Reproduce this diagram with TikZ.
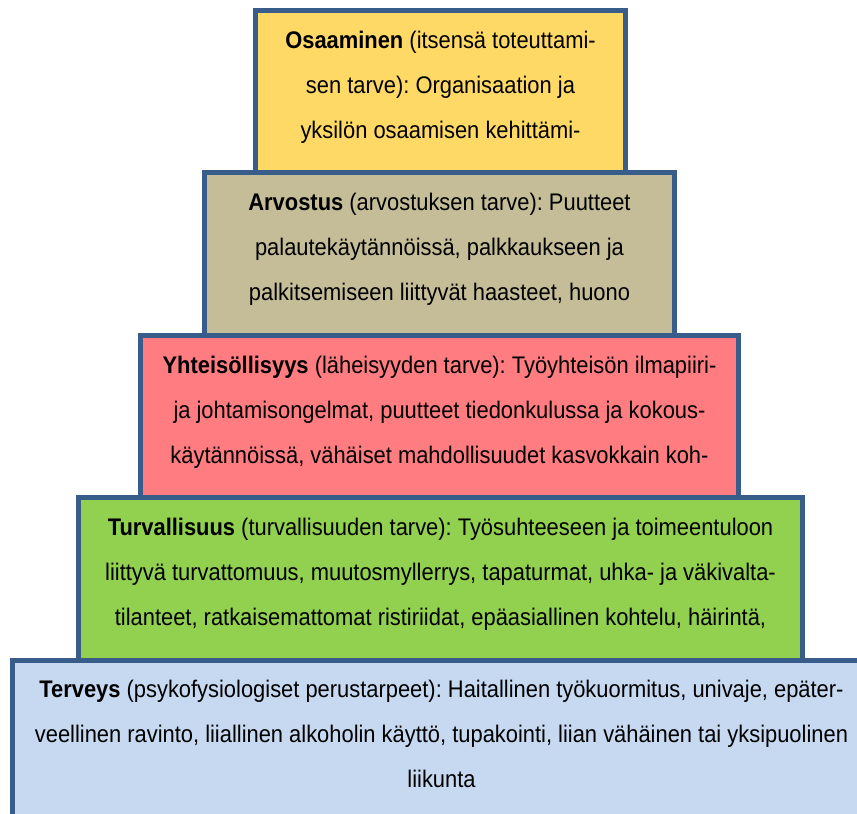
\documentclass[tikz,border=0pt]{standalone}
\usepackage{fontspec}
\setmainfont{Liberation Sans}[FakeStretch=0.9125]
\frenchspacing
\definecolor{edge}{HTML}{385D8A}
\definecolor{cYellow}{HTML}{FFD966}
\definecolor{cTan}{HTML}{C4BD97}
\definecolor{cRed}{HTML}{FF7C80}
\definecolor{cGreen}{HTML}{92D050}
\definecolor{cBlue}{HTML}{C6D9F1}
\tikzset{
  level/.style={draw=edge, line width=5pt, inner sep=0pt, outer sep=0pt, anchor=north west},
  txt/.style={anchor=base, inner sep=0pt, font=\fontsize{24}{28}\selectfont}
}
\begin{document}
\begin{tikzpicture}[x=1pt,y=1pt]
\useasboundingbox (0,0) rectangle (857,-814);
\clip (0,0) rectangle (857,-814);
% boxes
\node[level, fill=cYellow, minimum width=370pt, minimum height=162pt] (b1) at (255.5,-10.5) {};
\node[level, fill=cTan, minimum width=470pt, minimum height=163pt] (b2) at (204.5,-172.5) {};
\node[level, fill=cRed, minimum width=598.5pt, minimum height=162pt] (b3) at (140,-335.5) {};
\node[level, fill=cGreen, minimum width=724pt, minimum height=162.5pt] (b4) at (78.5,-497.5) {};
\node[level, fill=cBlue, minimum width=857pt, minimum height=175pt] (b5) at (12,-660) {};
% yellow
\node[txt] (t11) at (440.5,-48) {\textbf{Osaaminen} (itsensä toteuttami-};
\node[txt] (t12) at (440.5,-93) {sen tarve): Organisaation ja};
\node[txt] (t13) at (440.5,-138) {yksilön osaamisen kehittämi-};
% tan
\node[txt] (t21) at (439.5,-210) {\textbf{Arvostus} (arvostuksen tarve): Puutteet};
\node[txt] (t22) at (439.5,-255) {palautekäytännöissä, palkkaukseen ja};
\node[txt] (t23) at (439.5,-300) {palkitsemiseen liittyvät haasteet, huono};
% red
\node[txt] (t31) at (439.5,-373) {\textbf{Yhteisöllisyys} (läheisyyden tarve): Työyhteisön ilmapiiri-};
\node[txt] (t32) at (439.5,-418) {ja johtamisongelmat, puutteet tiedonkulussa ja kokous-};
\node[txt] (t33) at (439.5,-463) {käytännöissä, vähäiset mahdollisuudet kasvokkain koh-};
% green
\node[txt] (t41) at (440.5,-535) {\textbf{Turvallisuus} (turvallisuuden tarve): Työsuhteeseen ja toimeentuloon};
\node[txt] (t42) at (440.5,-580) {liittyvä turvattomuus, muutosmyllerrys, tapaturmat, uhka- ja väkivalta-};
\node[txt] (t43) at (440.5,-625) {tilanteet, ratkaisemattomat ristiriidat, epäasiallinen kohtelu, häirintä,};
% blue
\node[txt] (t51) at (441.5,-697) {\textbf{Terveys} (psykofysiologiset perustarpeet): Haitallinen työkuormitus, univaje, epäter-};
\node[txt] (t52) at (441.5,-742) {veellinen ravinto, liiallinen alkoholin käyttö, tupakointi, liian vähäinen tai yksipuolinen};
\node[txt] (t53) at (441.5,-787) {liikunta};
\end{tikzpicture}
\end{document}
